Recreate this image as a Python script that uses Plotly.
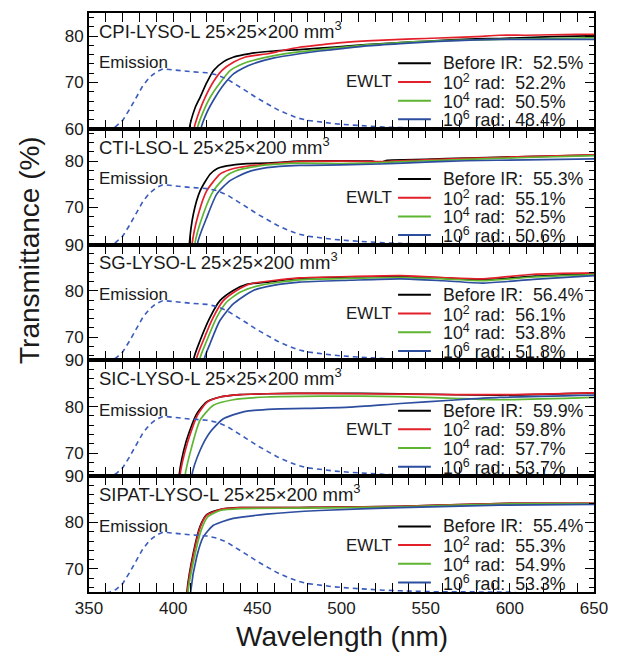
import plotly.graph_objects as go
from plotly.subplots import make_subplots

# ---------------- data ----------------
PANEL_NAMES = ["CPI-LYSO-L", "CTI-LSO-L", "SG-LYSO-L", "SIC-LYSO-L", "SIPAT-LYSO-L"]
SIZE_LABEL = "25×25×200 mm<sup>3</sup>"
DOSE_LABELS = ["Before IR", "10<sup>2</sup> rad", "10<sup>4</sup> rad", "10<sup>6</sup> rad"]
EWLT_CPI = [52.5, 52.2, 50.5, 48.4]
EWLT_CTI = [55.3, 55.1, 52.5, 50.6]
EWLT_SG = [56.4, 56.1, 53.8, 51.8]
EWLT_SIC = [59.9, 59.8, 57.7, 53.7]
EWLT_SIPAT = [55.4, 55.3, 54.9, 53.3]
Y_RANGES = [[60, 85], [62, 87], [65, 90], [65, 90], [65, 90]]
X_RANGE = [350, 650]

# emission spectrum (relative intensity, peak = 1)
EM_WL = [355, 362.5, 366, 370, 374, 378, 382, 386, 390, 394, 400, 410, 420, 426, 432, 438,
         444, 450, 456, 462, 468, 474, 480, 488, 496, 505, 515, 525, 535, 545, 555, 570, 600, 610, 650]
EM_INT = [-0.05, 0.0, 0.04, 0.14, 0.32, 0.52, 0.72, 0.86, 0.95, 1.0, 0.98, 0.955, 0.935, 0.9, 0.83, 0.73,
          0.62, 0.51, 0.41, 0.32, 0.245, 0.18, 0.14, 0.11, 0.085, 0.065, 0.045, 0.03, 0.02, 0.01, 0.005, 0.002, 0.0, -0.03, -0.05]

# transmittance curves: (wavelength nm, transmittance %)
cpi_before = [(406, 20), (409.6, 60), (413, 64.5), (416, 66.8), (420, 70.0), (424, 72.6), (430, 74.5), (436, 75.5),
              (442, 76.0), (448, 76.4), (460, 76.8), (475, 77.1), (487, 77.4), (505, 77.9), (520, 78.3), (535, 78.6),
              (550, 78.9), (565, 79.2), (580, 79.4), (594, 79.5), (610, 79.7), (625, 79.9), (640, 80.0), (650, 80.1)]
cpi_1e2 = [(408.5, 20), (412.4, 60), (416, 64.2), (419, 66.8), (424, 70.2), (429, 72.6), (436, 74.4), (443, 75.5),
           (450, 75.9), (456, 76.2), (465, 76.9), (475, 77.6), (487, 78.1), (500, 78.6), (515, 79.0), (535, 79.3),
           (550, 79.5), (565, 79.7), (580, 79.9), (594, 80.2), (610, 80.2), (625, 80.3), (640, 80.4), (650, 80.4)]
cpi_1e4 = [(410.5, 20), (414.3, 60), (418, 63.8), (422, 66.8), (428, 70.0), (434, 72.6), (441, 74.0), (448, 74.8),
           (460, 75.8), (475, 76.6), (487, 77.1), (500, 77.6), (515, 78.1), (535, 78.6), (550, 78.9), (565, 79.1),
           (580, 79.2), (594, 79.3), (610, 79.4), (625, 79.5), (640, 79.6), (650, 79.7)]
cpi_1e6 = [(412.5, 20), (416.5, 60), (420, 63.5), (425, 66.8), (430, 69.5), (436, 71.9), (442, 73.2), (448, 74.1),
           (460, 75.3), (475, 76.2), (487, 76.8), (500, 77.3), (515, 77.9), (535, 78.4), (550, 78.7), (565, 79.0),
           (580, 79.2), (594, 79.3), (610, 79.3), (625, 79.3), (640, 79.3), (650, 79.3)]

cti_before = [(406.5, 20), (409.6, 62), (412, 68.6), (416, 73.6), (421.9, 77.2), (426, 78.4), (431.8, 79.0), (443.7, 79.5),
              (455.6, 79.6), (475, 80.0), (500, 80.1), (518, 80.0), (523, 79.7), (527, 80.2), (550, 80.4), (574, 80.7),
              (610, 81.0), (650, 81.3)]
cti_1e2 = [(408, 20), (411.2, 62), (415, 68.6), (419.9, 73.6), (427.8, 77.2), (433, 78.1), (439.7, 78.7), (455.6, 79.4),
           (475, 79.9), (500, 80.0), (523, 79.9), (550, 80.3), (574, 80.6), (610, 81.0), (650, 81.4)]
cti_1e4 = [(409.6, 20), (412.8, 62), (417.9, 68.6), (423.9, 73.6), (431.8, 76.9), (437, 77.9), (443.7, 78.5), (455.6, 79.2),
           (475, 79.6), (500, 79.5), (523, 79.7), (550, 80.1), (574, 80.4), (610, 80.8), (650, 81.2)]
cti_1e6 = [(411, 20), (414.3, 62), (419.9, 67.8), (425.9, 72.9), (433.8, 75.8), (443.7, 77.6), (455.6, 78.6),
           (475, 79.1), (500, 79.2), (523, 79.4), (550, 79.8), (574, 80.1), (610, 80.3), (650, 80.5)]

sg_before = [(409, 20), (412, 65), (416, 69.3), (421.9, 74.3), (427.8, 77.9), (435.7, 80.1), (443.7, 81.4), (455.6, 81.9),
             (475, 82.7), (505, 83.0), (535, 83.1), (560, 82.8), (584, 82.4), (615, 83.2), (650, 83.7)]
sg_1e2 = [(410.6, 20), (413.6, 65), (417.9, 69.3), (423.8, 74.3), (429.8, 77.9), (437.7, 80.1), (445.6, 81.5),
          (475, 82.8), (505, 83.1), (535, 83.3), (560, 82.9), (584, 82.6), (614, 83.6), (650, 83.9)]
sg_1e4 = [(412.6, 20), (415.6, 65), (420, 69.3), (425.9, 74.3), (431.8, 77.6), (439.7, 79.7), (451.6, 81.2),
          (475, 82.4), (505, 82.7), (535, 82.9), (560, 82.6), (584, 82.2), (614, 83.0), (650, 83.5)]
sg_1e6 = [(415.3, 20), (418.3, 65), (421.9, 68.6), (427.8, 73.6), (435.7, 77.2), (447.6, 80.1), (459.5, 81.2),
          (475, 81.9), (505, 82.3), (535, 82.6), (560, 82.2), (584, 81.7), (614, 82.5), (650, 83.3)]

sic_before = [(401, 20), (403.5, 65), (407.7, 72.5), (413.7, 78.3), (419.7, 81.0), (427.8, 82.1), (439.7, 82.6),
              (455.6, 82.8), (487, 82.9), (535, 82.8), (594, 82.5), (650, 83.0)]
sic_1e2 = [(401.5, 20), (404, 65), (408.3, 72.0), (414.3, 78.1), (420.2, 81.0), (428, 82.1), (440, 82.6),
           (455.6, 82.8), (487, 82.9), (535, 82.7), (594, 82.6), (650, 83.0)]
sic_1e4 = [(404.5, 20), (407, 65), (411, 71.3), (416, 77.1), (423.9, 80.3), (435.7, 81.5), (455.6, 82.1),
           (487, 82.3), (535, 82.2), (594, 81.5), (650, 82.0)]
sic_1e6 = [(408.5, 20), (411, 65), (416, 70.6), (421.9, 74.5), (429.8, 77.4), (441.7, 78.9), (459.5, 79.5),
           (487, 79.7), (505, 79.9), (535, 80.7), (565, 81.4), (594, 82.0), (650, 82.5)]

sipat_before = [(406, 20), (408.2, 65), (412, 73.5), (416, 79.2), (419.9, 81.7), (427.8, 82.8), (439.7, 83.2),
                (475, 83.2), (487, 83.3), (535, 83.5), (594, 84.1), (650, 84.1)]
sipat_1e2 = [(406.2, 20), (408.4, 65), (412.2, 73.3), (416.2, 79.1), (420, 81.6), (428, 82.8), (440, 83.2),
             (475, 83.2), (535, 83.5), (594, 84.1), (650, 84.2)]
sipat_1e4 = [(406.6, 20), (408.8, 65), (412.6, 72.5), (416.6, 78.3), (420.5, 81.2), (428, 82.6), (440, 83.0),
             (475, 83.1), (535, 83.4), (594, 84.0), (650, 84.1)]
sipat_1e6 = [(408.2, 20), (410.4, 65), (414, 72.6), (417.9, 76.9), (423.9, 79.4), (435.7, 80.9), (455.6, 81.8),
             (487, 82.6), (535, 83.2), (594, 83.75), (650, 83.9)]

PANEL_CURVES = [
    [cpi_before, cpi_1e2, cpi_1e4, cpi_1e6],
    [cti_before, cti_1e2, cti_1e4, cti_1e6],
    [sg_before, sg_1e2, sg_1e4, sg_1e6],
    [sic_before, sic_1e2, sic_1e4, sic_1e6],
    [sipat_before, sipat_1e2, sipat_1e4, sipat_1e6],
]
PANEL_EWLT = [EWLT_CPI, EWLT_CTI, EWLT_SG, EWLT_SIC, EWLT_SIPAT]

# ---------------- style ----------------
COLORS = ["#000000", "#e3202a", "#5db531", "#2d4e9f"]
EM_COLOR = "#3b5cbe"
FONT = "Liberation Sans, Arial, Helvetica, sans-serif"
TXT = "#1a1a1a"

fig = make_subplots(rows=5, cols=1, shared_xaxes=True, vertical_spacing=0,
                    specs=[[{"secondary_y": True}] for _ in range(5)])

for i in range(5):
    r = i + 1
    fig.add_trace(go.Scatter(x=EM_WL, y=EM_INT, mode="lines",
                             line=dict(color=EM_COLOR, width=1.6, dash="5px,4px"),
                             showlegend=False, hoverinfo="skip"),
                  row=r, col=1, secondary_y=True)
    for k, curve in enumerate(PANEL_CURVES[i]):
        fig.add_trace(go.Scatter(x=[p[0] for p in curve], y=[p[1] for p in curve], mode="lines",
                                 line=dict(color=COLORS[k], width=1.7, shape="spline", smoothing=0.6),
                                 name=DOSE_LABELS[k], showlegend=False),
                      row=r, col=1, secondary_y=False)

axis_common = dict(showline=True, linewidth=2, linecolor="black", mirror="allticks", automargin=False,
                   ticks="inside", tickcolor="black", tickwidth=1.2, showgrid=False, zeroline=False)

fig.update_xaxes(domain=[0, 1], range=X_RANGE, dtick=50, tick0=350, ticklen=9,
                 minor=dict(dtick=10, ticklen=5, ticks="inside", tickcolor="black", tickwidth=1),
                 tickfont=dict(family=FONT, size=17, color=TXT), **axis_common)

for i in range(5):
    r = i + 1
    fig.update_yaxes(row=r, col=1, secondary_y=False, range=Y_RANGES[i], dtick=10, tick0=0, ticklen=9,
                     minor=dict(dtick=2, ticklen=5, ticks="inside", tickcolor="black", tickwidth=1),
                     tickfont=dict(family=FONT, size=17, color=TXT), **axis_common)
    fig.update_yaxes(row=r, col=1, secondary_y=True, range=[0, 1.933], visible=False, automargin=False)

ROW_Y = [0.566, 0.405, 0.243, 0.082]
annotations = []
shapes = []
for i in range(5):
    xr = "x domain" if i == 0 else f"x{i+1} domain"
    yr = "y domain" if i == 0 else f"y{2*i+1} domain"
    annotations.append(dict(xref=xr, yref=yr, x=0.016, y=0.855, xanchor="left", yanchor="middle",
                            text=f"{PANEL_NAMES[i]} {SIZE_LABEL}", showarrow=False,
                            font=dict(family=FONT, size=18.5, color=TXT)))
    annotations.append(dict(xref=xr, yref=yr, x=0.016, y=0.569, xanchor="left", yanchor="middle",
                            text="Emission", showarrow=False, font=dict(family=FONT, size=17, color=TXT)))
    annotations.append(dict(xref=xr, yref=yr, x=0.603, y=ROW_Y[1], xanchor="right", yanchor="middle",
                            text="EWLT", showarrow=False, font=dict(family=FONT, size=17, color=TXT)))
    for k in range(4):
        shapes.append(dict(type="line", xref=xr, yref=yr, x0=0.612, x1=0.677, y0=ROW_Y[k], y1=ROW_Y[k],
                           line=dict(color=COLORS[k], width=2)))
        annotations.append(dict(xref=xr, yref=yr, x=0.697, y=ROW_Y[k], xanchor="left", yanchor="middle",
                                text=f"{DOSE_LABELS[k]}:  {PANEL_EWLT[i][k]:.1f}%", showarrow=False,
                                font=dict(family=FONT, size=17.8, color=TXT)))

annotations.append(dict(xref="paper", yref="paper", x=-0.1168, y=0.5907, xanchor="center", yanchor="middle",
                        text="Transmittance (%)", textangle=-90, showarrow=False,
                        font=dict(family=FONT, size=28, color=TXT)))
annotations.append(dict(xref="paper", yref="paper", x=0.5, y=-0.0777, xanchor="center", yanchor="middle",
                        text="Wavelength (nm)", showarrow=False, font=dict(family=FONT, size=28, color=TXT)))

fig.update_layout(width=621, height=654, margin=dict(l=89, r=27, t=13, b=62),
                  paper_bgcolor="white", plot_bgcolor="white",
                  annotations=annotations, shapes=shapes, showlegend=False)

fig.write_html("out.html")
